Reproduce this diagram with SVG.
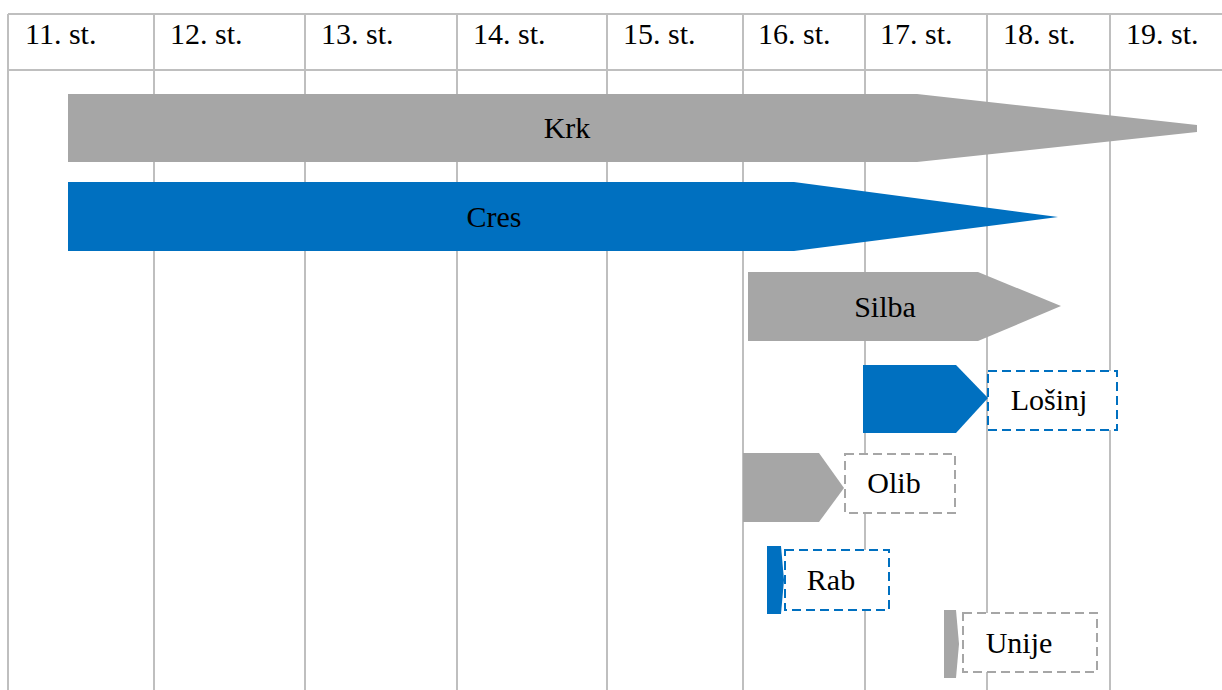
<svg xmlns="http://www.w3.org/2000/svg" width="1222" height="690" viewBox="0 0 1222 690">
<rect width="1222" height="690" fill="#fff"/>
<g id="grid">
<path stroke="#BFBFBF" stroke-width="2" fill="none" d="M8,14H1222M8,70H1222M8,14V690M154,14V690M305,14V690M457,14V690M607,14V690M743,14V690M865,14V690M987,14V690M1110,14V690"/>
<text font-family="Liberation Serif" font-size="30" x="25" y="44">11. st.</text>
<text font-family="Liberation Serif" font-size="30" x="170" y="44">12. st.</text>
<text font-family="Liberation Serif" font-size="30" x="321" y="44">13. st.</text>
<text font-family="Liberation Serif" font-size="30" x="473" y="44">14. st.</text>
<text font-family="Liberation Serif" font-size="30" x="623" y="44">15. st.</text>
<text font-family="Liberation Serif" font-size="30" x="758" y="44">16. st.</text>
<text font-family="Liberation Serif" font-size="30" x="880" y="44">17. st.</text>
<text font-family="Liberation Serif" font-size="30" x="1003" y="44">18. st.</text>
<text font-family="Liberation Serif" font-size="30" x="1126" y="44">19. st.</text>
</g>
<g id="krk">
<polygon fill="#A6A6A6" points="68,94 917,94 1197,125 1197,132 917,162 68,162"/>
<text font-family="Liberation Serif" font-size="30" text-anchor="middle" x="567" y="138">Krk</text>
</g>
<g id="cres">
<polygon fill="#0070C0" points="68,182 794,182 1058,217 794,251 68,251"/>
<text font-family="Liberation Serif" font-size="30" text-anchor="middle" x="494" y="227">Cres</text>
</g>
<g id="silba">
<polygon fill="#A6A6A6" points="748,272 978,272 1061,306 978,341 748,341"/>
<text font-family="Liberation Serif" font-size="30" text-anchor="middle" x="885" y="317">Silba</text>
</g>
<g id="losinj">
<polygon fill="#0070C0" points="863,365 956,365 988,398 956,433 863,433"/>
<rect fill="#fff" stroke="#0070C0" stroke-width="2" stroke-dasharray="9 5" x="988" y="371" width="129" height="59"/>
<text font-family="Liberation Serif" font-size="30" text-anchor="middle" x="1049" y="410">Lošinj</text>
</g>
<g id="olib">
<polygon fill="#A6A6A6" points="743,453 819,453 844,488 819,522 743,522"/>
<rect fill="#fff" stroke="#A6A6A6" stroke-width="2" stroke-dasharray="9 5" x="845" y="454" width="110" height="59"/>
<text font-family="Liberation Serif" font-size="30" text-anchor="middle" x="894" y="493">Olib</text>
</g>
<g id="rab">
<polygon fill="#0070C0" points="767,546 781,546 784,580 781,614 767,614"/>
<rect fill="#fff" stroke="#0070C0" stroke-width="2" stroke-dasharray="9 5" x="785" y="550" width="104" height="60"/>
<text font-family="Liberation Serif" font-size="30" text-anchor="middle" x="831" y="590">Rab</text>
</g>
<g id="unije">
<polygon fill="#A6A6A6" points="944,610 956,610 959,644 956,678 944,678"/>
<rect fill="#fff" stroke="#A6A6A6" stroke-width="2" stroke-dasharray="9 5" x="963" y="613" width="134" height="59"/>
<text font-family="Liberation Serif" font-size="30" text-anchor="middle" x="1019" y="653">Unije</text>
</g>
<g id="connectors"></g>
</svg>
